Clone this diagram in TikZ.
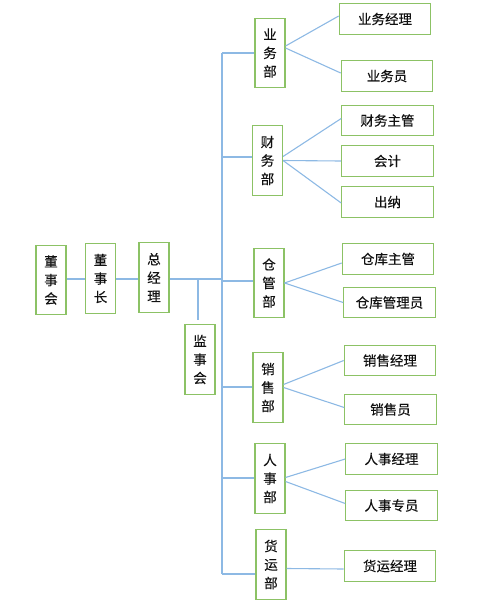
\documentclass[tikz,border=0pt]{standalone}
\usepackage{fontspec}
\newfontfamily\cjk{Noto Sans CJK SC}[FakeBold=0.25]
\definecolor{boxgreen}{HTML}{8CC265}
\definecolor{lineblue}{HTML}{8DB9E4}
\definecolor{txt}{HTML}{111111}
\begin{document}
\begin{tikzpicture}[x=1pt,y=-1pt,
  base/.style={draw=boxgreen,line width=1.1pt,fill=white,inner sep=0pt,text=txt,
    font=\cjk\fontsize{13.5}{18.5}\selectfont,align=center},
  vbox/.style={base,minimum width=30pt,minimum height=69.5pt},
  hbox/.style={base,minimum width=91.5pt,minimum height=30.5pt},
  conn/.style={draw=lineblue,line width=1.1pt}]
\useasboundingbox (0,0) rectangle (489,606);
% left chain
\node[vbox] (dsh) at (51,280) {董\\事\\会};
\node[vbox] (dsz) at (100.5,278.5) {董\\事\\长};
\node[vbox] (zjl) at (154,277.5) {总\\经\\理};
\node[vbox] (jsh) at (200,359.5) {监\\事\\会};
% departments
\node[vbox] (ywb) at (270,53) {业\\务\\部};
\node[vbox] (cwb) at (267.5,160.5) {财\\务\\部};
\node[vbox] (cgb) at (269,283) {仓\\管\\部};
\node[vbox] (xsb) at (268,387.5) {销\\售\\部};
\node[vbox] (rsb) at (270,478.5) {人\\事\\部};
\node[vbox] (hyb) at (271,564.5) {货\\运\\部};
% positions
\node[hbox] (ywjl) at (385,19) {业务经理};
\node[hbox] (ywy) at (387,76) {业务员};
\node[hbox] (cwzg) at (387.5,120.5) {财务主管};
\node[hbox] (kj) at (387.5,161) {会计};
\node[hbox] (cn) at (387.5,202) {出纳};
\node[hbox] (ckzg) at (388,259) {仓库主管};
\node[hbox] (ckgly) at (389.5,302.5) {仓库管理员};
\node[hbox] (xsjl) at (390,360.5) {销售经理};
\node[hbox] (xsy) at (390.5,409.5) {销售员};
\node[hbox] (rsjl) at (391.5,459) {人事经理};
\node[hbox] (rszy) at (391.5,505.5) {人事专员};
\node[hbox] (hyjl) at (390,566) {货运经理};
% coordinates
\coordinate (j) at (222,279);
\coordinate (b) at (198,279);
\coordinate (b2) at (198,320);
\coordinate (t1) at (222,53);
\coordinate (t2) at (222,157);
\coordinate (t3) at (222,281);
\coordinate (t4) at (222,387);
\coordinate (t5) at (222,478);
\coordinate (t6) at (222,574);
% left chain lines
\draw[conn] (dsh.east |- j) -- (dsz.west |- j);
\draw[conn] (dsz.east |- j) -- (zjl.west |- j);
\draw[conn] (zjl.east |- j) -- (j);
\draw[conn] (b) -- (b2);
% trunk
\draw[conn] (t1) -- (t6);
\draw[conn] (t1) -- (t1 -| ywb.west);
\draw[conn] (t2) -- (t2 -| cwb.west);
\draw[conn] (t3) -- (t3 -| cgb.west);
\draw[conn] (t4) -- (t4 -| xsb.west);
\draw[conn] (t5) -- (t5 -| rsb.west);
\draw[conn] (t6) -- (t6 -| hyb.west);
% department to positions
\draw[conn] ([yshift=7pt]ywb.east) -- ([yshift=3pt]ywjl.west);
\draw[conn] ([yshift=5pt]ywb.east) -- ([yshift=3pt]ywy.west);
\draw[conn] ([yshift=4pt]cwb.east) -- ([yshift=2pt]cwzg.west);
\draw[conn] (cwb.east) -- (kj.west);
\draw[conn] (cwb.east) -- ([yshift=-1pt]cn.west);
\draw[conn] (cgb.east) -- ([yshift=-4pt]ckzg.west);
\draw[conn] (cgb.east) -- (ckgly.west);
\draw[conn] ([yshift=3pt]xsb.east) -- (xsjl.west);
\draw[conn] (xsb.east) -- ([yshift=2pt]xsy.west);
\draw[conn] ([yshift=1pt]rsb.east) -- (rsjl.west);
\draw[conn] ([yshift=-3pt]rsb.east) -- ([yshift=2pt]rszy.west);
\draw[conn] ([yshift=-4pt]hyb.east) -- ([yshift=-3pt]hyjl.west);
\end{tikzpicture}
\end{document}
